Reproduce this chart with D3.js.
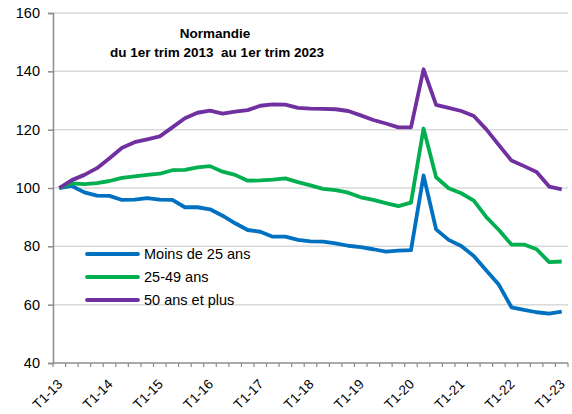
<!DOCTYPE html>
<html>
<head>
<meta charset="utf-8">
<script src="https://cdn.jsdelivr.net/npm/d3@7"></script>
<style>
	body { margin: 0; background: #fff; }
	svg { display: block; font-family: "Liberation Sans", Arial, sans-serif; }
</style>
</head>
<body>
<div id="chart"></div>
<script>
// DATA (indice base 100 au T1 2013)
var quarters = [];
for (var yr = 13; yr <= 23; yr++) {
	for (var q = 1; q <= 4; q++) {
		if (yr === 23 && q > 1) break;
		quarters.push("T" + q + "-" + yr);
	}
}
var tickLabels = ["T1-13", "T1-14", "T1-15", "T1-16", "T1-17", "T1-18", "T1-19", "T1-20", "T1-21", "T1-22", "T1-23"];
var seriesNames = ["Moins de 25 ans", "25-49 ans", "50 ans et plus"];
var moins25 = [100, 100.7, 98.5, 97.4, 97.3, 95.9, 96, 96.5, 96, 95.9,
	93.4, 93.4, 92.7, 90.5, 87.9, 85.6, 85, 83.3, 83.3, 82.2,
	81.7, 81.6, 81, 80.2, 79.7, 79, 78.2, 78.5, 78.7, 104.3,
	85.8, 82.2, 80.1, 76.7, 71.7, 66.8, 59.1, 58.2, 57.4, 56.9, 57.6];
var ans2549 = [100, 101.6, 101.3, 101.7, 102.4, 103.5, 104, 104.5, 104.9, 106.1,
	106.2, 107.1, 107.5, 105.6, 104.5, 102.5, 102.6, 102.9, 103.3, 102,
	100.9, 99.7, 99.3, 98.4, 96.8, 95.9, 94.8, 93.8, 95, 120.4,
	103.7, 99.9, 98.2, 95.7, 90, 85.6, 80.6, 80.6, 79, 74.6, 74.8];
var plus50 = [100, 102.7, 104.5, 106.8, 110.2, 113.8, 115.7, 116.7, 117.7, 120.8,
	123.9, 125.8, 126.5, 125.5, 126.2, 126.7, 128.2, 128.7, 128.6, 127.5,
	127.2, 127.1, 127, 126.4, 124.9, 123.3, 122.1, 120.8, 120.8, 140.7,
	128.5, 127.5, 126.4, 124.7, 120.1, 114.7, 109.4, 107.5, 105.5, 100.5, 99.5];
var yTicks = [40, 60, 80, 100, 120, 140, 160];
var colors = ["#0070c0", "#00b050", "#7030a0"];

var series = [moins25, ans2549, plus50];

// DIMENSIONS
var W = 572, H = 414;
var margin = { top: 13, right: 4, bottom: 51, left: 53 },
	width = W - margin.left - margin.right,
	height = H - margin.top - margin.bottom;

var svgRoot = d3.select("#chart")
	.append("svg")
	.attr("width", W)
	.attr("height", H);
var svg = svgRoot.append("g")
	.attr("transform", "translate(" + margin.left + "," + margin.top + ")");

// SCALES
var x = d3.scaleBand().domain(quarters).range([0, width]);
var y = d3.scaleLinear().domain([40, 160]).range([height, 0]);
function xc(i) { return x(quarters[i]) + x.bandwidth() / 2; }

// GRIDLINES
svg.append("g")
	.selectAll("line")
	.data(yTicks.slice(1))
	.join("line")
	.attr("x1", 0)
	.attr("x2", width)
	.attr("y1", function (d) { return y(d); })
	.attr("y2", function (d) { return y(d); })
	.attr("stroke", "#d9d9d9")
	.attr("stroke-width", 1.5);

// Y AXIS
var yAxis = svg.append("g")
	.call(d3.axisLeft(y).tickValues(yTicks).tickSize(5).tickPadding(8));
yAxis.select(".domain").attr("stroke", "#8c8c8c").attr("stroke-width", 1.5);
yAxis.selectAll(".tick line").attr("stroke", "#8c8c8c").attr("stroke-width", 1.5);
yAxis.selectAll(".tick text")
	.attr("font-size", 14.5)
	.attr("fill", "#000")
	.attr("font-family", "Liberation Sans, Arial, sans-serif");

// X AXIS: tick marks at band boundaries
var xg = svg.append("g").attr("transform", "translate(0," + height + ")");
xg.append("line")
	.attr("x1", 0).attr("x2", width)
	.attr("stroke", "#8c8c8c").attr("stroke-width", 1.5);
xg.selectAll(".xtick")
	.data(quarters.concat(["end"]))
	.join("line")
	.attr("class", "xtick")
	.attr("x1", function (d, i) { return i < quarters.length ? x(d) : width; })
	.attr("x2", function (d, i) { return i < quarters.length ? x(d) : width; })
	.attr("y1", 0).attr("y2", 4)
	.attr("stroke", "#8c8c8c").attr("stroke-width", 1.2);
xg.selectAll(".xlabel")
	.data(tickLabels)
	.join("text")
	.attr("class", "xlabel")
	.attr("transform", function (d) {
		return "translate(" + (x(d) + x.bandwidth() / 2 + 4) + ",22) rotate(-45)";
	})
	.attr("text-anchor", "end")
	.attr("font-size", 13.5)
	.attr("fill", "#000")
	.text(function (d) { return d; });

// LINES
var line = d3.line()
	.x(function (d, i) { return xc(i); })
	.y(function (d) { return y(d); });
svg.selectAll(".serie")
	.data(series)
	.join("path")
	.attr("class", "serie")
	.attr("fill", "none")
	.attr("stroke", function (d, i) { return colors[i]; })
	.attr("stroke-width", 3.8)
	.attr("stroke-linejoin", "round")
	.attr("d", line);

// TITLE
var title = svgRoot.append("g")
	.attr("font-weight", "bold")
	.attr("font-size", 13.5)
	.attr("text-anchor", "middle");
title.append("text").attr("x", 215).attr("y", 38).text("Normandie");
title.append("text").attr("x", 217).attr("y", 57).attr("xml:space", "preserve")
	.text("du 1er trim 2013  au 1er trim 2023");

// LEGEND
var legend = svgRoot.append("g").attr("transform", "translate(87,254)");
var items = legend.selectAll("g")
	.data(seriesNames)
	.join("g")
	.attr("transform", function (d, i) { return "translate(0," + i * 23 + ")"; });
items.append("line")
	.attr("x1", 0).attr("x2", 51)
	.attr("stroke", function (d, i) { return colors[i]; })
	.attr("stroke-width", 3.8)
	.attr("stroke-linecap", "round");
items.append("text")
	.attr("x", 57)
	.attr("y", 5)
	.attr("font-size", 14.5)
	.attr("fill", "#000")
	.text(function (d) { return d; });
</script>
</body>
</html>
